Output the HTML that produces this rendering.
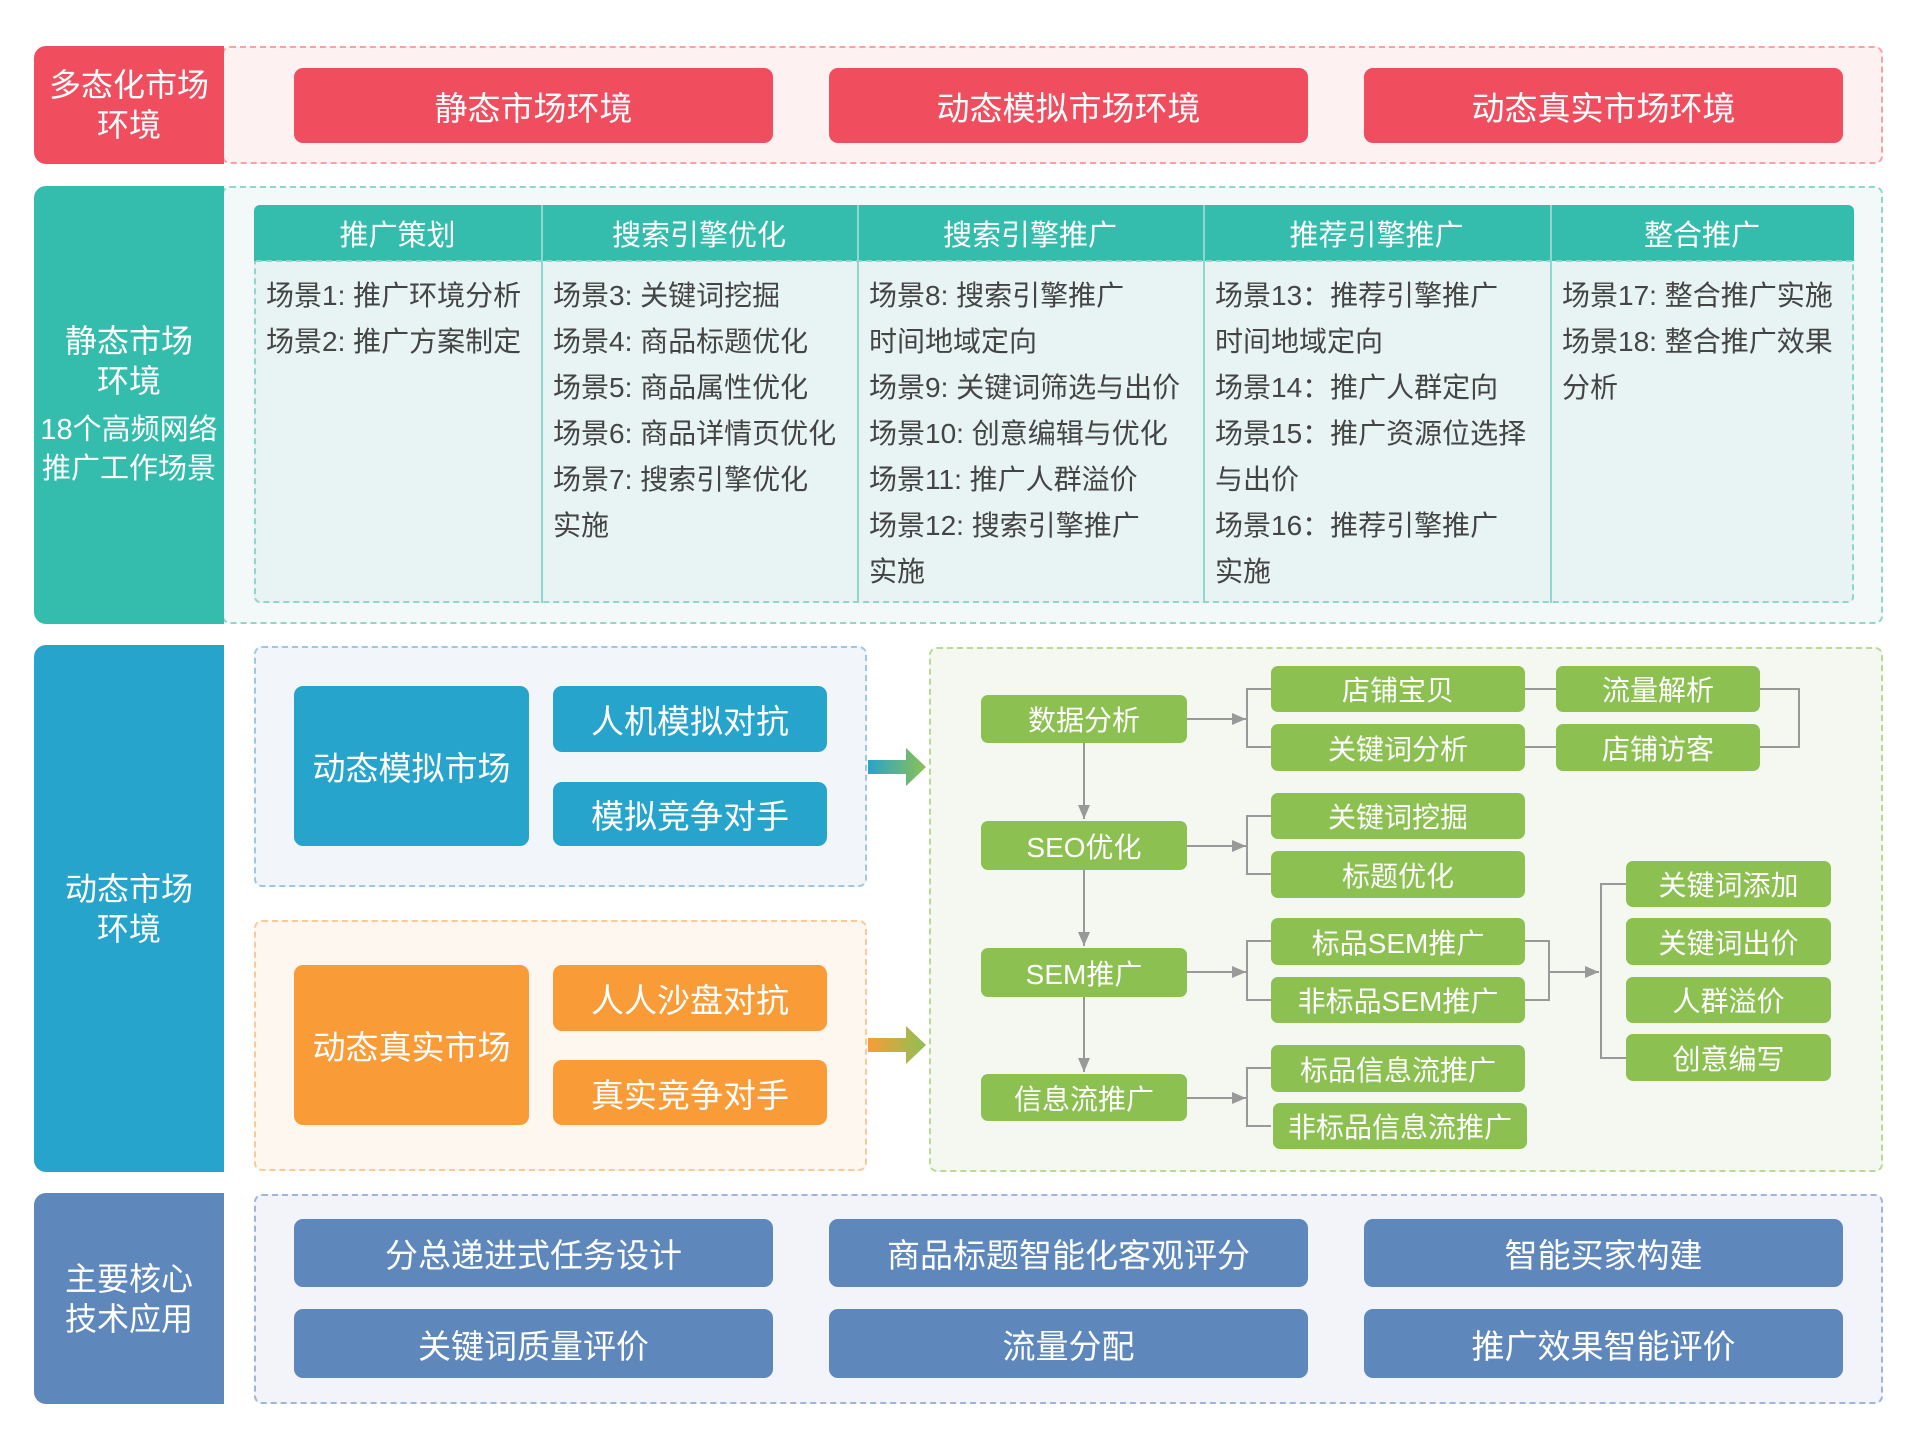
<!DOCTYPE html>
<html><head><meta charset="utf-8"><style>
*{margin:0;padding:0;box-sizing:border-box}
body{width:1915px;height:1446px;background:#fff;position:relative;overflow:hidden;font-family:"Liberation Sans","Noto Sans CJK SC",sans-serif}
.a{position:absolute;display:flex;align-items:center;justify-content:center;text-align:center;color:#fff}
.L{border-radius:12px 0 0 12px;line-height:1.25}
.d{position:absolute;border:2px dashed;border-radius:8px}
.b{border-radius:9px;font-size:33px}
.g{background:#8cc152;border-radius:7px;font-size:28px}
.col{position:absolute;top:261px;font-size:28px;color:#444;line-height:46px;padding-top:12px;padding-left:12px}
.h{position:absolute;top:205px;height:56px;font-size:29px;color:#fff;display:flex;align-items:center;justify-content:center}
svg{position:absolute;left:0;top:0}
</style></head><body>
<!-- row1 -->
<div class="d" style="left:222px;top:46px;width:1661px;height:118px;border-color:#f4a3a6;background:#fdf2f1"></div>
<div class="a L" style="left:34px;top:46px;width:190px;height:118px;background:#f04e5e;font-size:32px">多态化市场<br>环境</div>
<div class="a b" style="left:294px;top:68px;width:479px;height:75px;background:#f04e5e">静态市场环境</div>
<div class="a b" style="left:829px;top:68px;width:479px;height:75px;background:#f04e5e">动态模拟市场环境</div>
<div class="a b" style="left:1364px;top:68px;width:479px;height:75px;background:#f04e5e">动态真实市场环境</div>
<!-- row2 -->
<div class="d" style="left:222px;top:186px;width:1661px;height:438px;border-color:#8fd6cc;background:#f2f9f8"></div>
<div class="a L" style="left:34px;top:186px;width:190px;height:438px;background:#34bcad;font-size:32px;flex-direction:column">
<div>静态市场<br>环境</div><div style="font-size:29px;margin-top:10px;line-height:1.35">18个高频网络<br>推广工作场景</div></div>
<div class="d" style="left:254px;top:205px;width:1600px;height:398px;border-color:#8fd6cc;background:#e8f4f3;border-radius:6px"></div>
<div style="position:absolute;left:254px;top:205px;width:1600px;height:56px;background:#34bcad;border-radius:6px 6px 0 0"></div>
<div style="position:absolute;left:256px;top:260px;width:1596px;border-top:2px dashed #8fd6cc"></div>
<div style="position:absolute;left:541px;top:205px;width:2px;height:398px;background:#8fd6cc"></div>
<div style="position:absolute;left:857px;top:205px;width:2px;height:398px;background:#8fd6cc"></div>
<div style="position:absolute;left:1203px;top:205px;width:2px;height:398px;background:#8fd6cc"></div>
<div style="position:absolute;left:1550px;top:205px;width:2px;height:398px;background:#8fd6cc"></div>
<div class="h" style="left:254px;width:287px">推广策划</div>
<div class="h" style="left:541px;width:316px">搜索引擎优化</div>
<div class="h" style="left:857px;width:346px">搜索引擎推广</div>
<div class="h" style="left:1203px;width:347px">推荐引擎推广</div>
<div class="h" style="left:1550px;width:304px">整合推广</div>
<div class="col" style="left:254px">场景1: 推广环境分析<br>场景2: 推广方案制定</div>
<div class="col" style="left:541px">场景3: 关键词挖掘<br>场景4: 商品标题优化<br>场景5: 商品属性优化<br>场景6: 商品详情页优化<br>场景7: 搜索引擎优化<br>实施</div>
<div class="col" style="left:857px">场景8: 搜索引擎推广<br>时间地域定向<br>场景9: 关键词筛选与出价<br>场景10: 创意编辑与优化<br>场景11: 推广人群溢价<br>场景12: 搜索引擎推广<br>实施</div>
<div class="col" style="left:1203px">场景13：推荐引擎推广<br>时间地域定向<br>场景14：推广人群定向<br>场景15：推广资源位选择<br>与出价<br>场景16：推荐引擎推广<br>实施</div>
<div class="col" style="left:1550px">场景17: 整合推广实施<br>场景18: 整合推广效果<br>分析</div>
<!-- row3 -->
<div class="a L" style="left:34px;top:645px;width:190px;height:527px;background:#27a4cc;font-size:32px">动态市场<br>环境</div>
<div class="d" style="left:254px;top:646px;width:613px;height:241px;border-color:#9cc8e6;background:#f2f5fa"></div>
<div class="a b" style="left:294px;top:686px;width:235px;height:160px;background:#27a4cc">动态模拟市场</div>
<div class="a b" style="left:553px;top:686px;width:274px;height:66px;background:#27a4cc">人机模拟对抗</div>
<div class="a b" style="left:553px;top:782px;width:274px;height:64px;background:#27a4cc">模拟竞争对手</div>
<div class="d" style="left:254px;top:920px;width:613px;height:251px;border-color:#fbc998;background:#fef7ef"></div>
<div class="a b" style="left:294px;top:965px;width:235px;height:160px;background:#f99c38">动态真实市场</div>
<div class="a b" style="left:553px;top:965px;width:274px;height:66px;background:#f99c38">人人沙盘对抗</div>
<div class="a b" style="left:553px;top:1060px;width:274px;height:65px;background:#f99c38">真实竞争对手</div>
<div class="d" style="left:929px;top:647px;width:954px;height:525px;border-color:#b8db94;background:#f4f8f1"></div>
<svg width="1915" height="1446">
<defs>
<linearGradient id="gb" x1="0" x2="1"><stop offset="0" stop-color="#27a4cc"/><stop offset="1" stop-color="#8cc152"/></linearGradient>
<linearGradient id="go" x1="0" x2="1"><stop offset="0" stop-color="#f99c38"/><stop offset="1" stop-color="#8cc152"/></linearGradient>
<marker id="m" markerWidth="8" markerHeight="8" refX="7" refY="4" orient="auto"><path d="M0,1 L7,4 L0,7Z" fill="#999"/></marker>
</defs>
<path d="M868,760 h38 v-12 l20,19 l-20,19 v-12 h-38z" fill="url(#gb)"/>
<path d="M868,1038 h38 v-12 l20,19 l-20,19 v-12 h-38z" fill="url(#go)"/>
<g stroke="#999" stroke-width="2" fill="none">
<line x1="1084" y1="743" x2="1084" y2="819" marker-end="url(#m)"/>
<line x1="1084" y1="870" x2="1084" y2="946" marker-end="url(#m)"/>
<line x1="1084" y1="997" x2="1084" y2="1072" marker-end="url(#m)"/>
<line x1="1187" y1="719" x2="1246" y2="719" marker-end="url(#m)"/>
<path d="M1271,689 h-24 v58 h24"/>
<line x1="1187" y1="846" x2="1246" y2="846" marker-end="url(#m)"/>
<path d="M1271,816 h-24 v58 h24"/>
<line x1="1187" y1="972" x2="1246" y2="972" marker-end="url(#m)"/>
<path d="M1271,941 h-24 v59 h24"/>
<line x1="1187" y1="1098" x2="1246" y2="1098" marker-end="url(#m)"/>
<path d="M1271,1068 h-24 v58 h24"/>
<line x1="1525" y1="689" x2="1556" y2="689"/>
<line x1="1525" y1="747" x2="1556" y2="747"/>
<path d="M1760,689 h39 v58 h-39"/>
<path d="M1525,941 h24 v59 h-24"/>
<line x1="1549" y1="972" x2="1599" y2="972" marker-end="url(#m)"/>
<path d="M1626,884 h-25 v174 h25"/>
</g>
</svg>
<div class="a g" style="left:981px;top:695px;width:206px;height:48px">数据分析</div>
<div class="a g" style="left:981px;top:821px;width:206px;height:49px">SEO优化</div>
<div class="a g" style="left:981px;top:948px;width:206px;height:49px">SEM推广</div>
<div class="a g" style="left:981px;top:1074px;width:206px;height:47px">信息流推广</div>
<div class="a g" style="left:1271px;top:666px;width:254px;height:46px">店铺宝贝</div>
<div class="a g" style="left:1271px;top:724px;width:254px;height:47px">关键词分析</div>
<div class="a g" style="left:1271px;top:793px;width:254px;height:46px">关键词挖掘</div>
<div class="a g" style="left:1271px;top:851px;width:254px;height:47px">标题优化</div>
<div class="a g" style="left:1271px;top:918px;width:254px;height:47px">标品SEM推广</div>
<div class="a g" style="left:1271px;top:977px;width:254px;height:46px">非标品SEM推广</div>
<div class="a g" style="left:1271px;top:1045px;width:254px;height:47px">标品信息流推广</div>
<div class="a g" style="left:1273px;top:1103px;width:254px;height:46px">非标品信息流推广</div>
<div class="a g" style="left:1556px;top:666px;width:204px;height:46px">流量解析</div>
<div class="a g" style="left:1556px;top:724px;width:204px;height:47px">店铺访客</div>
<div class="a g" style="left:1626px;top:861px;width:205px;height:46px">关键词添加</div>
<div class="a g" style="left:1626px;top:918px;width:205px;height:47px">关键词出价</div>
<div class="a g" style="left:1626px;top:977px;width:205px;height:46px">人群溢价</div>
<div class="a g" style="left:1626px;top:1034px;width:205px;height:47px">创意编写</div>
<!-- row4 -->
<div class="d" style="left:254px;top:1194px;width:1629px;height:210px;border-color:#9fb6d8;background:#f2f4f9"></div>
<div class="a L" style="left:34px;top:1193px;width:190px;height:211px;background:#5e87bb;font-size:32px">主要核心<br>技术应用</div>
<div class="a b" style="left:294px;top:1219px;width:479px;height:68px;background:#5e87bb">分总递进式任务设计</div>
<div class="a b" style="left:829px;top:1219px;width:479px;height:68px;background:#5e87bb">商品标题智能化客观评分</div>
<div class="a b" style="left:1364px;top:1219px;width:479px;height:68px;background:#5e87bb">智能买家构建</div>
<div class="a b" style="left:294px;top:1309px;width:479px;height:69px;background:#5e87bb">关键词质量评价</div>
<div class="a b" style="left:829px;top:1309px;width:479px;height:69px;background:#5e87bb">流量分配</div>
<div class="a b" style="left:1364px;top:1309px;width:479px;height:69px;background:#5e87bb">推广效果智能评价</div>
</body></html>
